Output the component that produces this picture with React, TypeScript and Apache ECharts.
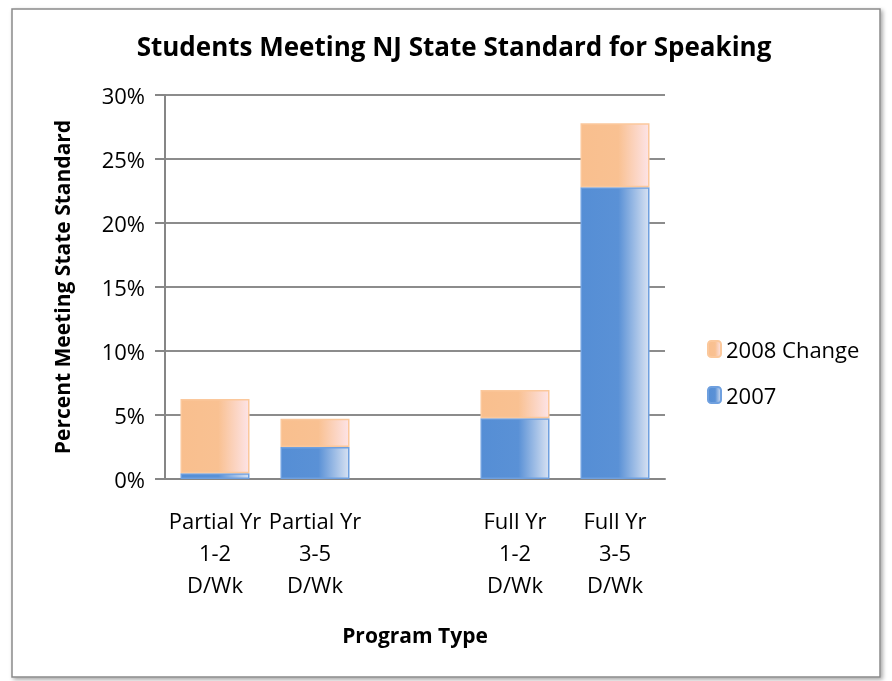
import React, { useEffect, useRef } from "react";
import * as echarts from "echarts";

const categories = ["Partial Yr\n1-2\nD/Wk", "Partial Yr\n3-5\nD/Wk", "", "Full Yr\n1-2\nD/Wk", "Full Yr\n3-5\nD/Wk"];
const values2007: (number | null)[] = [0.45, 2.5, null, 4.75, 22.8];
const change2008: (number | null)[] = [5.8, 2.2, null, 2.2, 5.0];
const yTicks = [0, 5, 10, 15, 20, 25, 30];

const FONT = "'Open Sans', Lato, sans-serif";

export default function App() {
  const ref = useRef<HTMLDivElement>(null);
  useEffect(() => {
    if (!ref.current) return;
    const chart = echarts.init(ref.current, null, { renderer: "svg" });
    const blueGrad = new echarts.graphic.LinearGradient(0, 0, 1, 0, [
      { offset: 0, color: "#558ED5" },
      { offset: 0.55, color: "#5A91D6" },
      { offset: 1, color: "#D6E1F2" },
    ]);
    const orangeGrad = new echarts.graphic.LinearGradient(0, 0, 1, 0, [
      { offset: 0, color: "#F9BF8E" },
      { offset: 0.55, color: "#F9C192" },
      { offset: 1, color: "#FDE3E6" },
    ]);
    chart.setOption({
      animation: false,
      textStyle: { fontFamily: FONT },
      graphic: [
        {
          type: "rect",
          shape: { x: 12, y: 9, width: 868, height: 668 },
          style: { fill: "#fff", stroke: "#8a8a8a", lineWidth: 1.5, shadowBlur: 4, shadowColor: "rgba(0,0,0,0.35)", shadowOffsetX: 2, shadowOffsetY: 2 },
          z: -10,
        },
      ],
      title: {
        text: "Students Meeting NJ State Standard for Speaking",
        left: 449,
        textAlign: "center",
        top: 28,
        textStyle: { fontFamily: FONT, fontSize: 26, fontWeight: "bold", color: "#000" },
      },
      legend: {
        orient: "vertical",
        left: 702,
        top: 333,
        itemGap: 24,
        itemWidth: 13,
        itemHeight: 16,
        data: ["2008 Change", "2007"],
        textStyle: { fontFamily: FONT, fontSize: 22, color: "#000" },
      },
      grid: { left: 165, right: 227, top: 95, bottom: 202 },
      xAxis: {
        type: "category",
        data: categories,
        name: "Program Type",
        nameLocation: "middle",
        nameGap: 145,
        nameTextStyle: { fontFamily: FONT, fontSize: 21, fontWeight: "bold", color: "#000" },
        axisLine: { lineStyle: { color: "#868686", width: 2 } },
        axisTick: { show: false },
        axisLabel: { interval: 0, color: "#000", fontSize: 22, lineHeight: 32, margin: 25, fontFamily: FONT },
      },
      yAxis: {
        type: "value",
        min: 0,
        max: 30,
        interval: 5,
        name: "Percent Meeting State Standard",
        nameLocation: "middle",
        nameGap: 93,
        nameTextStyle: { fontFamily: FONT, fontSize: 21, fontWeight: "bold", color: "#000" },
        axisLine: { show: true, lineStyle: { color: "#868686", width: 2 } },
        axisTick: { show: true, length: 10, lineStyle: { color: "#868686", width: 2 } },
        splitLine: { lineStyle: { color: "#8c8c8c", width: 2 } },
        axisLabel: {
          color: "#000",
          fontSize: 22,
          margin: 20,
          fontFamily: FONT,
          formatter: (v: number) => (yTicks.includes(v) ? v + "%" : ""),
        },
      },
      series: [
        {
          name: "2007",
          type: "bar",
          stack: "s",
          barWidth: "69%",
          data: values2007,
          itemStyle: { color: blueGrad, borderColor: "#6FA0DF", borderWidth: 1.5 },
        },
        {
          name: "2008 Change",
          type: "bar",
          stack: "s",
          barWidth: "69%",
          data: change2008,
          itemStyle: { color: orangeGrad, borderColor: "#FBC89C", borderWidth: 1.5 },
        },
      ],
    });
    return () => chart.dispose();
  }, []);
  return <div ref={ref} style={{ position: "fixed", left: 0, top: 0, width: 892, height: 681 }} />;
}
